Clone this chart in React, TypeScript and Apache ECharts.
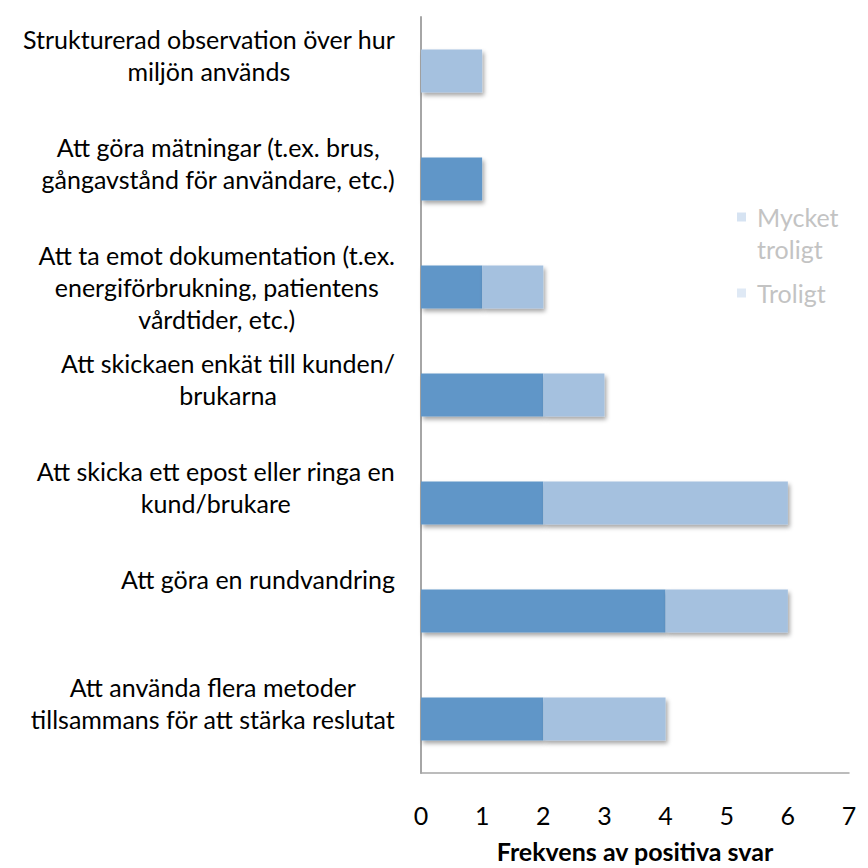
import React, { useEffect, useRef } from 'react';
import * as echarts from 'echarts';

const categories: string[] = [
  'Strukturerad observation över hur\nmiljön används',
  'Att göra mätningar (t.ex. brus,\ngångavstånd för användare, etc.)',
  'Att ta emot dokumentation (t.ex.\nenergiförbrukning, patientens\nvårdtider, etc.)',
  'Att skickaen enkät till kunden/\nbrukarna',
  'Att skicka ett epost eller ringa en\nkund/brukare',
  'Att göra en rundvandring',
  'Att använda flera metoder\ntillsammans för att stärka reslutat',
];
const seriesNames: string[] = ['Mycket troligt', 'Troligt'];
const mycketTroligt: number[] = [0, 1, 1, 2, 2, 4, 2];
const troligt: number[] = [1, 0, 1, 1, 4, 2, 2];
const xMin = 0;
const xMax = 7;
const xInterval = 1;
const axisTitle = 'Frekvens av positiva svar';

const FONT = 'Lato, "Open Sans", sans-serif';
const FS = 25;
const DARK = '#6096c8';
const LIGHT = '#a5c1df';

export default function App() {
  const ref = useRef<HTMLDivElement>(null);
  useEffect(() => {
    if (!ref.current) return;
    const chart = echarts.init(ref.current, null, { renderer: 'svg' });
    const shadow = {
      shadowBlur: 4,
      shadowOffsetX: 2,
      shadowOffsetY: 3,
      shadowColor: 'rgba(0,0,0,0.35)',
    };
    const noShadow = { shadowBlur: 0, shadowColor: 'transparent', shadowOffsetX: 0, shadowOffsetY: 0 };
    chart.setOption({
      animation: false,
      backgroundColor: '#ffffff',
      textStyle: { fontFamily: FONT },
      grid: { left: 421, right: 19, top: 17, bottom: 90, containLabel: false },
      xAxis: {
        type: 'value',
        min: xMin,
        max: xMax,
        interval: xInterval,
        axisLine: { show: true, lineStyle: { color: '#a6a6a6', width: 1.5 } },
        axisTick: { show: false },
        splitLine: { show: false },
        axisLabel: { fontSize: FS, color: '#000', margin: 29, fontFamily: FONT },
        name: axisTitle,
        nameLocation: 'middle',
        nameGap: 65,
        nameTextStyle: { fontSize: FS, fontWeight: 'bold', color: '#000', fontFamily: FONT },
      },
      yAxis: {
        type: 'category',
        inverse: true,
        data: categories,
        axisLine: { show: true, lineStyle: { color: '#a6a6a6', width: 2 } },
        axisTick: { show: false },
        axisLabel: {
          margin: 26,
          fontSize: FS,
          lineHeight: 32,
          color: '#000',
          fontFamily: FONT,
          formatter: (v: string) => {
            const lines = v.split('\n');
            while (lines.length < 3) lines.push(' ');
            return lines.map((l) => `{c|${l}}`).join('\n');
          },
          rich: {
            c: { align: 'center', fontSize: FS, lineHeight: 32, color: '#000', fontFamily: FONT },
          },
        },
      },
      legend: [
        {
          data: [seriesNames[0]],
          left: 737,
          top: 169,
          orient: 'vertical',
          padding: 0,
          icon: 'rect',
          itemWidth: 9,
          itemHeight: 9,
          formatter: () => ' \nMycket\ntroligt',
          textStyle: { fontSize: FS, lineHeight: 32, color: '#c3c3c3', fontFamily: FONT, padding: [0, 0, 0, 6] },
          itemStyle: { color: '#d6e3f2', ...noShadow },
        },
        {
          data: [seriesNames[1]],
          left: 737,
          top: 277,
          orient: 'vertical',
          padding: 0,
          icon: 'rect',
          itemWidth: 9,
          itemHeight: 9,
          textStyle: { fontSize: FS, lineHeight: 32, color: '#c3c3c3', fontFamily: FONT, padding: [0, 0, 0, 6] },
          itemStyle: { color: '#dfe9f5', ...noShadow },
        },
      ],
      series: [
        {
          name: seriesNames[0],
          type: 'bar',
          stack: 'total',
          data: mycketTroligt,
          barCategoryGap: '60%',
          itemStyle: { color: DARK, ...shadow },
        },
        {
          name: seriesNames[1],
          type: 'bar',
          stack: 'total',
          data: troligt,
          barCategoryGap: '60%',
          itemStyle: { color: LIGHT, ...shadow },
        },
      ],
    });
    return () => chart.dispose();
  }, []);
  return <div ref={ref} style={{ width: 868, height: 868, position: 'absolute', left: 0, top: 0 }} />;
}
